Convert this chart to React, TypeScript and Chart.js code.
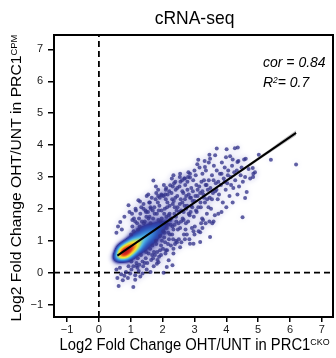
import React, { useEffect, useRef } from 'react';
import { Chart, registerables } from 'chart.js';

Chart.register(...registerables);

// ---------------- data ----------------
const TITLE = 'cRNA-seq';
const X_TITLE = 'Log2 Fold Change OHT/UNT in PRC1';
const X_TITLE_SUP = 'CKO';
const Y_TITLE = 'Log2 Fold Change OHT/UNT in PRC1';
const Y_TITLE_SUP = 'CPM';
const COR_LABEL = 'cor = 0.84';
const R2_LABEL = '= 0.7';

const X_TICKS = [-1, 0, 1, 2, 3, 4, 5, 6, 7];
const Y_TICKS = [-1, 0, 1, 2, 3, 4, 5, 6, 7];
const X_RANGE = [-1.41, 7.35];
const Y_RANGE = [-1.39, 7.45];

const FIT_INTERCEPT = 0.135;
const FIT_SLOPE = 0.686;
const FIT_X = [0.58, 6.19];
const BAND_X = [0.58, 1.5, 2.5, 3.5, 4.5, 5.5, 6.19];
const BAND_HALF = [0.03, 0.015, 0.014, 0.025, 0.045, 0.065, 0.08];

// dense core: location and number of overlapping genes
const CORE_X = [0.537, 0.618, 0.699, 0.78, 0.861, 0.942, 1.023, 1.104, 1.185, 1.266, 1.347, 1.428, 1.509, 1.59,
  1.671, 1.752, 1.833, 1.914, 1.995, 2.076, 2.157, 2.238,
  0.675, 0.885, 0.837, 1.047, 0.999, 1.209, 1.161, 1.371, 1.323, 1.533, 1.485, 1.695, 1.647, 1.857, 1.809, 2.019,
  1.02, 1.37, 1.18, 1.53, 1.34, 1.69, 1.50, 1.85,
  0.72, 0.84, 0.88, 1.0, 1.05, 1.16];
const CORE_Y = [0.445, 0.503, 0.562, 0.62, 0.679, 0.737, 0.796, 0.854, 0.913, 0.971, 1.03, 1.088, 1.147, 1.205,
  1.264, 1.322, 1.381, 1.439, 1.498, 1.556, 1.615, 1.673,
  0.766, 0.474, 0.883, 0.591, 1.0, 0.708, 1.117, 0.825, 1.234, 0.942, 1.351, 1.059, 1.468, 1.176, 1.585, 1.293,
  1.14, 0.65, 1.26, 0.77, 1.38, 0.89, 1.50, 1.01,
  0.70, 0.54, 0.82, 0.66, 0.94, 0.77];
const CORE_N = [6, 15, 28, 35, 35, 31, 26, 21, 17, 14, 11, 9, 8, 7, 6, 5, 4, 3.5, 3, 2.5, 2, 1.5,
  9, 9, 9, 9, 8, 8, 7, 7, 6, 6, 5, 5, 4, 4, 3, 3,
  2, 2, 2, 2, 2, 2, 1.5, 1.5,
  12, 12, 10, 10, 7, 7];

// individual genes
const LOW_TAIL = [[0.62, -0.42], [1.08, -0.45], [0.75, -0.24], [0.91, -0.17], [1.14, -0.22], [1.14, -0.08],
  [0.58, -0.17], [0.98, -0.03], [1.37, -0.03], [0.70, -0.05], [0.85, 0.02], [1.25, 0.05], [1.50, 0.10],
  [1.62, 0.02], [0.55, 0.10], [1.02, 0.10], [1.30, -0.12], [0.80, -0.10], [0.66, 0.15], [0.93, 0.20], [1.18, 0.22]];
const LOWER_EDGE = [[1.87, 0.33], [2.03, 0.00], [2.13, 0.18], [2.31, 0.23], [2.19, 0.39], [2.55, 0.80], [2.97, 0.91],
  [3.18, 0.96], [3.18, 1.27], [3.25, 1.40], [3.49, 1.12], [2.86, 0.91], [2.34, 0.60], [1.82, 0.28], [1.70, 0.45],
  [1.95, 0.55], [2.10, 0.70], [2.45, 0.95], [2.70, 1.05], [3.00, 1.20], [3.35, 1.55], [3.60, 1.60], [3.75, 1.85],
  [4.00, 2.05], [4.51, 1.74], [4.20, 2.20], [4.64, 2.53], [4.59, 2.34], [4.35, 2.45]];
const UPPER_EDGE = [[0.55, 1.25], [0.60, 1.45], [0.67, 1.59], [0.72, 1.35], [0.80, 1.75], [0.93, 2.11], [0.96, 1.90],
  [1.05, 1.65], [1.24, 2.27], [1.29, 2.23], [1.15, 2.00], [1.40, 2.15], [1.50, 2.40], [1.71, 2.89], [1.60, 2.20],
  [1.80, 2.50], [1.97, 2.42], [2.10, 2.60], [2.24, 2.74], [2.34, 3.05], [2.40, 2.85], [2.55, 3.10], [2.86, 3.10],
  [2.70, 2.95], [3.12, 3.54], [3.33, 3.31], [3.49, 3.57], [3.47, 3.70], [3.65, 3.68], [3.70, 3.89], [4.01, 3.87],
  [4.27, 3.90], [4.36, 3.92], [3.99, 3.62], [4.20, 3.55], [4.56, 3.55], [4.38, 3.50], [4.83, 3.28], [4.85, 3.10],
  [4.59, 3.00], [4.84, 3.00], [4.90, 3.15], [4.61, 3.57], [4.35, 3.47]];
const RIGHT_TAIL = [[5.02, 3.70], [5.40, 3.54], [6.19, 3.39]];
const CLOUD_A = [[1.02, 0.35], [1.05, 1.45], [1.08, 0.2], [1.1, 1.7], [1.12, 0.5], [1.15, 1.25], [1.18, 0.3], [1.2, 1.55],
  [1.22, 0.45], [1.04, 1.85], [1.16, 1.95], [1.23, 1.35], [1.07, 0.6], [1.19, 1.1], [1.11, 0.85], [1.24, 0.7],
  [1.01, 1.2], [1.14, 1.6], [1.21, 0.15], [1.09, 1.3], [1.27, 0.25], [1.3, 1.85], [1.32, 0.55], [1.35, 1.6],
  [1.37, 0.35], [1.4, 2.0], [1.42, 0.8], [1.45, 1.4], [1.47, 0.45], [1.49, 1.75], [1.28, 1.45], [1.33, 2.05],
  [1.36, 1.1], [1.39, 0.2], [1.43, 1.2], [1.46, 1.95], [1.48, 0.65], [1.26, 1.7], [1.31, 0.9], [1.41, 1.55],
  [1.44, 0.3], [1.38, 1.35]];
const CLOUD_B = [[1.52, 0.3], [1.54, 1.9], [1.56, 0.6], [1.58, 2.2], [1.6, 1.0], [1.62, 1.55], [1.64, 0.4], [1.66, 2.35],
  [1.68, 0.85], [1.7, 1.7], [1.72, 0.2], [1.74, 2.05], [1.53, 1.25], [1.55, 2.45], [1.57, 1.45], [1.61, 0.75],
  [1.63, 2.0], [1.65, 1.25], [1.67, 0.55], [1.69, 1.95], [1.71, 1.15], [1.73, 0.65], [1.59, 1.75], [1.51, 1.05],
  [1.76, 0.55], [1.78, 2.3], [1.8, 0.9], [1.82, 1.85], [1.84, 0.4], [1.86, 2.6], [1.88, 1.2], [1.9, 2.1],
  [1.92, 0.7], [1.94, 1.6], [1.96, 2.45], [1.98, 1.0], [1.77, 1.4], [1.79, 2.7], [1.81, 1.15], [1.83, 0.65],
  [1.85, 2.2], [1.87, 1.65], [1.89, 0.5], [1.91, 2.35], [1.93, 1.35], [1.95, 0.85], [1.97, 1.95], [1.99, 1.45]];
const CLOUD_C = [[2.01, 0.75], [2.03, 2.4], [2.05, 1.1], [2.07, 2.0], [2.09, 0.6], [2.11, 2.65], [2.13, 1.4], [2.15, 2.2],
  [2.17, 0.9], [2.19, 1.8], [2.21, 2.55], [2.23, 1.2], [2.02, 1.55], [2.04, 2.75], [2.06, 1.25], [2.08, 0.95],
  [2.1, 2.3], [2.12, 1.75], [2.14, 0.7], [2.16, 2.45], [2.18, 1.5], [2.2, 1.05], [2.22, 2.1], [2.24, 1.65],
  [2.26, 0.85], [2.28, 2.5], [2.3, 1.2], [2.32, 2.15], [2.34, 0.75], [2.36, 2.8], [2.38, 1.5], [2.4, 2.35],
  [2.42, 1.0], [2.44, 1.95], [2.46, 2.65], [2.48, 1.35], [2.27, 1.7], [2.29, 2.95], [2.31, 1.45], [2.33, 1.05],
  [2.35, 2.25], [2.37, 1.85], [2.39, 0.9], [2.41, 2.6], [2.43, 1.6], [2.47, 2.05]];
const CLOUD_D = [[2.51, 1.05], [2.53, 2.7], [2.55, 1.4], [2.57, 2.3], [2.59, 0.95], [2.61, 2.9], [2.63, 1.7], [2.65, 2.5],
  [2.67, 1.2], [2.69, 2.1], [2.71, 2.75], [2.73, 1.55], [2.52, 1.9], [2.54, 3.0], [2.58, 1.6], [2.62, 2.2],
  [2.66, 1.9], [2.68, 2.95], [2.72, 1.35], [2.74, 2.4], [2.76, 1.2], [2.78, 2.85], [2.8, 1.6], [2.82, 2.45],
  [2.84, 1.05], [2.86, 2.98], [2.88, 1.9], [2.9, 2.65], [2.92, 1.4], [2.94, 2.25], [2.96, 2.9], [2.98, 1.75],
  [2.77, 2.1], [2.81, 3.15], [2.85, 1.8], [2.89, 2.35], [2.93, 2.05], [2.97, 1.3]];
const CLOUD_E = [[3.01, 1.45], [3.04, 3.05], [3.07, 1.9], [3.1, 2.6], [3.13, 1.3], [3.16, 3.3], [3.19, 2.2], [3.22, 2.85],
  [3.24, 1.7], [3.03, 2.4], [3.06, 2.75], [3.09, 3.4], [3.12, 2.05], [3.18, 2.5], [3.21, 1.55], [3.27, 1.65],
  [3.3, 2.9], [3.33, 2.2], [3.36, 3.2], [3.39, 1.85], [3.42, 2.6], [3.45, 3.45], [3.48, 2.35], [3.28, 2.45],
  [3.32, 3.5], [3.38, 2.75], [3.44, 2.05], [3.47, 1.6], [3.52, 2.0], [3.55, 3.05], [3.58, 2.5], [3.61, 3.35],
  [3.64, 1.8], [3.67, 2.8], [3.7, 3.2], [3.73, 2.3], [3.56, 1.55], [3.69, 2.6], [3.77, 2.45], [3.8, 3.1],
  [3.83, 2.75], [3.86, 3.45], [3.89, 2.2], [3.92, 2.95], [3.95, 3.3], [3.98, 2.6], [3.85, 1.9], [4.03, 2.8],
  [4.06, 3.2], [4.1, 2.4], [4.14, 3.0], [4.18, 3.35], [4.22, 2.65], [4.12, 3.65], [4.28, 2.9], [4.33, 3.2],
  [4.4, 2.7], [4.45, 3.05], [4.48, 3.3], [4.52, 2.85], [4.7, 3.25], [4.75, 2.95]];
const CLOUD_F = [[1.32, 1.35], [1.36, 0.75], [1.44, 1.6], [1.5, 0.8], [1.56, 1.7], [1.6, 1.3], [1.66, 1.05], [1.7, 1.45],
  [1.75, 1.85], [1.79, 1.0], [1.84, 1.55], [1.88, 1.95], [1.92, 1.15], [1.97, 1.7], [2.02, 1.3], [2.05, 1.85],
  [2.1, 1.55], [2.14, 2.05], [2.18, 1.25], [2.22, 1.85], [2.26, 1.5], [2.3, 2.3], [2.34, 1.35], [2.38, 2.05],
  [2.42, 1.75], [2.46, 2.4], [2.5, 1.55], [2.54, 2.15], [2.58, 1.95], [2.62, 2.55], [2.66, 1.65], [2.7, 2.3],
  [2.74, 2.0], [2.78, 2.6], [2.82, 1.85], [2.86, 2.35], [2.9, 2.1], [2.95, 2.55], [3.0, 2.25], [3.05, 1.95],
  [3.1, 2.4], [3.15, 2.7], [3.2, 2.05], [3.25, 2.55], [3.3, 2.35], [3.35, 2.75], [3.4, 2.3], [3.45, 2.9],
  [3.5, 2.65], [3.55, 2.3], [3.6, 2.9], [3.65, 2.55], [3.75, 2.85], [3.85, 3.1], [3.95, 2.85], [4.05, 3.05],
  [4.15, 2.75], [4.25, 3.15], [1.48, 1.9], [1.62, 2.05], [1.86, 2.4], [2.08, 2.45], [2.32, 2.7], [2.56, 2.85],
  [2.8, 3.0], [3.0, 3.2], [3.25, 3.1]];

// ---------------- derived ----------------
const GENES = [...LOW_TAIL, ...LOWER_EDGE, ...UPPER_EDGE, ...RIGHT_TAIL, ...CLOUD_A, ...CLOUD_B, ...CLOUD_C,
  ...CLOUD_D, ...CLOUD_E, ...CLOUD_F];
const KDE_POINTS: number[][] = [
  ...CORE_X.map((x, i) => [x, CORE_Y[i], CORE_N[i]]),
  ...GENES.map(([x, y]) => [x, y, 1]),
];
const BANDWIDTH = 0.12;
const DOT_HIDE = 0.11;

function kde(x: number, y: number) {
  let s = 0;
  for (const [px, py, w] of KDE_POINTS) {
    const dx = (x - px) / BANDWIDTH, dy = (y - py) / BANDWIDTH;
    const r2 = dx * dx + dy * dy;
    if (r2 < 25) s += w * Math.exp(-0.5 * r2);
  }
  return s;
}
const MAX_DENSITY = Math.max(...KDE_POINTS.map(([x, y]) => kde(x, y)));
const GENE_HIDDEN = GENES.map(([x, y]) => kde(x, y) / MAX_DENSITY > DOT_HIDE);

const fit = (x: number) => FIT_INTERCEPT + FIT_SLOPE * x;

// ---------------- styles ----------------
const FONT = '"Liberation Sans", Arial, Helvetica, sans-serif';
const STRETCH = 1.06;
const RAMP: number[][] = [
  [0.0, 255, 255, 255, 0],
  [0.008, 222, 222, 243, 0.22],
  [0.025, 182, 182, 226, 0.42],
  [0.06, 100, 100, 185, 0.72],
  [0.1, 50, 55, 155, 1],
  [0.15, 45, 80, 182, 1],
  [0.22, 55, 130, 212, 1],
  [0.3, 80, 185, 230, 1],
  [0.4, 170, 220, 120, 1],
  [0.52, 245, 228, 45, 1],
  [0.66, 245, 150, 35, 1],
  [0.8, 228, 60, 30, 1],
  [1.0, 195, 25, 30, 1],
];
function ramp(d: number) {
  if (d <= 0) return RAMP[0].slice(1);
  if (d >= 1) return RAMP[RAMP.length - 1].slice(1);
  for (let i = 1; i < RAMP.length; i++) {
    if (d <= RAMP[i][0]) {
      const a = RAMP[i - 1], b = RAMP[i];
      const t = (d - a[0]) / (b[0] - a[0]);
      return [1, 2, 3, 4].map((k) => a[k] + (b[k] - a[k]) * t);
    }
  }
  return RAMP[RAMP.length - 1].slice(1);
}

type Seg = { t: string; sup?: boolean };
function drawSegs(ctx: CanvasRenderingContext2D, segs: Seg[], x: number, y: number, size: number,
  opts: { italic?: boolean; align: 'left' | 'center'; rotate?: boolean }) {
  const supSize = size * 0.6;
  const fontFor = (s: Seg) => `${opts.italic ? 'italic ' : ''}${s.sup ? supSize : size}px ${FONT}`;
  let total = 0;
  const widths = segs.map((s) => { ctx.font = fontFor(s); const w = ctx.measureText(s.t).width; total += w; return w; });
  ctx.save();
  ctx.translate(x, y);
  if (opts.rotate) { ctx.rotate(-Math.PI / 2); ctx.scale(STRETCH, 1); } else { ctx.scale(1, STRETCH); }
  let cx = opts.align === 'center' ? -total / 2 : 0;
  ctx.fillStyle = '#000';
  ctx.textAlign = 'left';
  ctx.textBaseline = 'alphabetic';
  segs.forEach((s, i) => {
    ctx.font = fontFor(s);
    ctx.fillText(s.t, cx, s.sup ? -size * 0.3 : 0);
    cx += widths[i];
  });
  ctx.restore();
}

const densityPlugin = {
  id: 'densityImage',
  beforeDatasetsDraw(chart: any) {
    const area = chart.chartArea;
    const xs = chart.scales.x, ys = chart.scales.y;
    const W = Math.ceil(area.right - area.left), Hp = Math.ceil(area.bottom - area.top);
    const key = `${W}x${Hp}`;
    let img = chart.$densityImg;
    if (!img || img.key !== key) {
      const grid = new Float32Array(W * Hp);
      const hx = BANDWIDTH * Math.abs(xs.getPixelForValue(1) - xs.getPixelForValue(0));
      const hy = BANDWIDTH * Math.abs(ys.getPixelForValue(1) - ys.getPixelForValue(0));
      for (const [px, py, w] of KDE_POINTS) {
        const cx = xs.getPixelForValue(px) - area.left;
        const cy = ys.getPixelForValue(py) - area.top;
        const i0 = Math.max(0, Math.floor(cx - 5 * hx)), i1 = Math.min(W - 1, Math.ceil(cx + 5 * hx));
        const j0 = Math.max(0, Math.floor(cy - 5 * hy)), j1 = Math.min(Hp - 1, Math.ceil(cy + 5 * hy));
        for (let j = j0; j <= j1; j++) {
          const dy = (j + 0.5 - cy) / hy;
          for (let i = i0; i <= i1; i++) {
            const dx = (i + 0.5 - cx) / hx;
            grid[j * W + i] += w * Math.exp(-0.5 * (dx * dx + dy * dy));
          }
        }
      }
      const off = document.createElement('canvas');
      off.width = W; off.height = Hp;
      const octx = off.getContext('2d')!;
      const id = octx.createImageData(W, Hp);
      for (let k = 0; k < W * Hp; k++) {
        const c = ramp(grid[k] / MAX_DENSITY);
        id.data[k * 4] = Math.round(c[0]);
        id.data[k * 4 + 1] = Math.round(c[1]);
        id.data[k * 4 + 2] = Math.round(c[2]);
        id.data[k * 4 + 3] = Math.round(c[3] * 255);
      }
      octx.putImageData(id, 0, 0);
      img = { key, off };
      chart.$densityImg = img;
    }
    chart.ctx.drawImage(img.off, area.left, area.top);
  },
};

const decorPlugin = {
  id: 'decor',
  afterDraw(chart: any) {
    const ctx: CanvasRenderingContext2D = chart.ctx;
    const a = chart.chartArea;
    ctx.save();
    ctx.strokeStyle = '#000';
    ctx.lineWidth = 2;
    ctx.strokeRect(a.left, a.top, a.right - a.left, a.bottom - a.top);
    ctx.restore();
    const cxm = (a.left + a.right) / 2;
    drawSegs(ctx, [{ t: TITLE }], cxm + 1, 24, 17.5, { align: 'center' });
    drawSegs(ctx, [{ t: X_TITLE }, { t: X_TITLE_SUP, sup: true }], cxm + 1, 349.5, 14.8, { align: 'center' });
    drawSegs(ctx, [{ t: Y_TITLE }, { t: Y_TITLE_SUP, sup: true }], 21, 178, 14.8, { align: 'center', rotate: true });
    drawSegs(ctx, [{ t: COR_LABEL }], 263, 66.7, 14, { align: 'left', italic: true });
    drawSegs(ctx, [{ t: 'R' }, { t: '2', sup: true }, { t: R2_LABEL }], 263, 87.3, 14, { align: 'left', italic: true });
  },
};

const fmt = (v: number) => (v < 0 ? '\u2212' + Math.abs(v) : String(v));

export default function App() {
  const ref = useRef<HTMLCanvasElement>(null);
  useEffect(() => {
    const canvas = ref.current!;
    const tickFont = { family: FONT, size: 11 };
    const chart = new Chart(canvas, {
      type: 'scatter',
      data: {
        datasets: [
          {
            label: 'fit', type: 'line', order: 0,
            data: FIT_X.map((x) => ({ x, y: fit(x) })),
            borderColor: '#000', borderWidth: 2, pointRadius: 0, showLine: true, fill: false,
          },
          {
            label: 'band-upper', type: 'line', order: 1,
            data: BAND_X.map((x, i) => ({ x, y: fit(x) + BAND_HALF[i] })),
            borderWidth: 0, borderColor: 'rgba(0,0,0,0)', backgroundColor: 'rgba(150,150,150,0.55)',
            pointRadius: 0, showLine: true, fill: '+1', tension: 0.3,
          },
          {
            label: 'band-lower', type: 'line', order: 2,
            data: BAND_X.map((x, i) => ({ x, y: fit(x) - BAND_HALF[i] })),
            borderWidth: 0, borderColor: 'rgba(0,0,0,0)', pointRadius: 0, showLine: true, fill: false, tension: 0.3,
          },
          {
            label: 'genes', order: 3,
            data: GENES.map(([x, y]) => ({ x, y })),
            pointRadius: (c: any) => (GENE_HIDDEN[c.dataIndex] ? 0 : 2),
            pointBackgroundColor: 'rgba(52,52,140,0.78)', pointBorderWidth: 0, borderWidth: 0,
            pointHoverRadius: 0,
          },
          {
            label: 'x0', type: 'line', order: 4,
            data: [{ x: 0, y: Y_RANGE[0] }, { x: 0, y: Y_RANGE[1] }],
            borderColor: '#000', borderWidth: 1.8, borderDash: [6, 4], pointRadius: 0, showLine: true, fill: false,
          },
          {
            label: 'y0', type: 'line', order: 5,
            data: [{ x: X_RANGE[0], y: 0 }, { x: X_RANGE[1], y: 0 }],
            borderColor: '#000', borderWidth: 1.8, borderDash: [6, 4], pointRadius: 0, showLine: true, fill: false,
          },
        ],
      } as any,
      options: {
        responsive: false,
        animation: false,
        devicePixelRatio: 1,
        events: [],
        layout: { padding: { top: 35, right: 3, left: 0, bottom: 0 } },
        plugins: { legend: { display: false }, tooltip: { enabled: false }, title: { display: false } },
        scales: {
          x: {
            type: 'linear', min: X_RANGE[0], max: X_RANGE[1],
            afterBuildTicks: (s: any) => { s.ticks = X_TICKS.map((v) => ({ value: v })); },
            afterFit: (s: any) => { s.height = 41; },
            border: { display: false },
            grid: { drawOnChartArea: false, drawTicks: true, tickLength: 5, color: '#000', lineWidth: 1.5 },
            ticks: { font: tickFont, color: '#1a1a1a', padding: 1, maxRotation: 0, autoSkip: false, callback: (v: any) => fmt(Number(v)) },
          },
          y: {
            type: 'linear', min: Y_RANGE[0], max: Y_RANGE[1],
            afterBuildTicks: (s: any) => { s.ticks = Y_TICKS.map((v) => ({ value: v })); },
            afterFit: (s: any) => { s.width = 54; },
            border: { display: false },
            grid: { drawOnChartArea: false, drawTicks: true, tickLength: 6, color: '#000', lineWidth: 1.5 },
            ticks: { font: tickFont, color: '#1a1a1a', padding: 5, autoSkip: false, callback: (v: any) => fmt(Number(v)) },
          },
        },
      } as any,
      plugins: [densityPlugin, decorPlugin],
    });
    return () => chart.destroy();
  }, []);
  return (
    <div style={{ position: 'fixed', left: 0, top: 0, width: 336, height: 358, background: '#fff' }}>
      <canvas ref={ref} width={336} height={358} style={{ display: 'block', width: 336, height: 358 }} />
    </div>
  );
}
